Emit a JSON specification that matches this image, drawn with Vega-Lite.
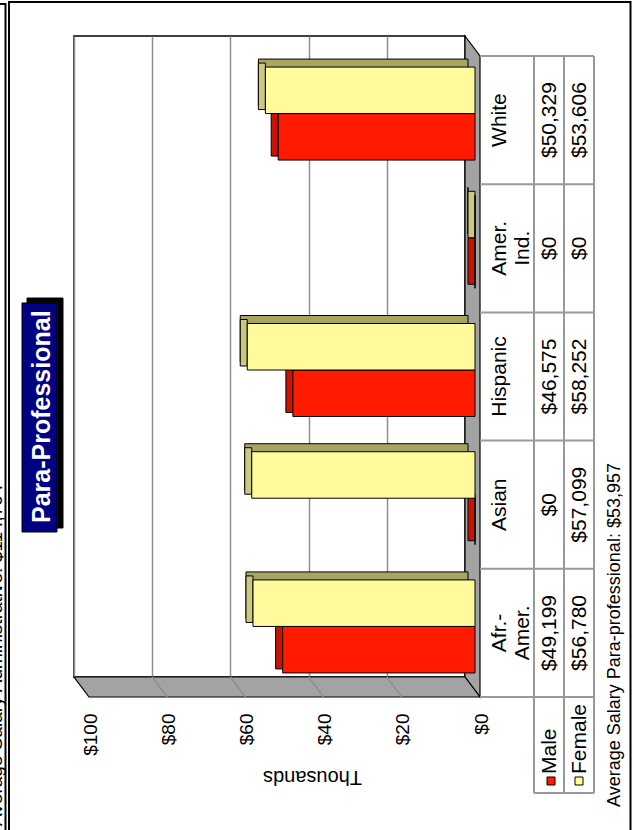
{
  "$schema": "https://vega.github.io/schema/vega-lite/v6.json",
  "width": 391,
  "height": 641,
  "autosize": {"type": "none"},
  "padding": {"left": 74, "top": 36, "right": 169, "bottom": 153},
  "background": "#ffffff",
  "config": {"font": "Liberation Sans", "view": {"stroke": "#000000", "strokeWidth": 1.5}},
  "data": {"values": [
    {"category": "Afr.- Amer.", "gender": "Male", "salary": 49199},
    {"category": "Asian", "gender": "Male", "salary": 0},
    {"category": "Hispanic", "gender": "Male", "salary": 46575},
    {"category": "Amer. Ind.", "gender": "Male", "salary": 0},
    {"category": "White", "gender": "Male", "salary": 50329},
    {"category": "Afr.- Amer.", "gender": "Female", "salary": 56780},
    {"category": "Asian", "gender": "Female", "salary": 57099},
    {"category": "Hispanic", "gender": "Female", "salary": 58252},
    {"category": "Amer. Ind.", "gender": "Female", "salary": 0},
    {"category": "White", "gender": "Female", "salary": 53606}
  ]},
  "layer": [
    {
      "data": {"values": [{}]},
      "mark": {"type": "point", "shape": "M391,0 L406,20 L406,661 L391,641 Z", "size": 4, "filled": true, "fill": "#A3A3A3", "stroke": "#000000", "strokeWidth": 1.2, "opacity": 1},
      "encoding": {"x": {"value": 0}, "y": {"value": 0}}
    },
    {
      "data": {"values": [{}]},
      "mark": {"type": "point", "shape": "M0,641 L391,641 L406,661 L15,661 Z", "size": 4, "filled": true, "fill": "#A3A3A3", "stroke": "#000000", "strokeWidth": 1.2, "opacity": 1},
      "encoding": {"x": {"value": 0}, "y": {"value": 0}}
    },
    {
      "data": {"values": [{}]},
      "mark": {"type": "point", "shape": "M78.2,641 L93.2,661 M156.4,641 L171.4,661 M234.6,641 L249.6,661 M312.8,641 L327.8,661", "size": 4, "filled": false, "stroke": "#8f8f8f", "strokeWidth": 1.5, "opacity": 1},
      "encoding": {"x": {"value": 0}, "y": {"value": 0}}
    },
    {
      "transform": [{"filter": "datum.gender === 'Male'"}],
      "mark": {"type": "bar", "size": 46.5, "xOffset": 3, "x2Offset": 10, "yOffset": 32.75, "fill": "#C81400", "stroke": "#000000", "strokeWidth": 1},
      "encoding": {
        "y": {"field": "category", "type": "nominal", "scale": {"domain": ["White", "Amer. Ind.", "Hispanic", "Asian", "Afr.- Amer."], "paddingInner": 0.2745, "paddingOuter": 0.137}, "axis": null},
        "x": {
          "field": "salary", "type": "quantitative",
          "scale": {"domain": [0, 100000], "reverse": true, "nice": false, "zero": true},
          "axis": {
            "orient": "bottom", "values": [0, 20000, 40000, 60000, 80000, 100000],
            "labelExpr": "'$' + (datum.value / 1000)",
            "labelAngle": 270, "labelAlign": "right", "labelBaseline": "middle",
            "labelPadding": 36, "labelOffset": 16, "labelFontSize": 19, "labelColor": "#000000",
            "labelFont": "Liberation Sans", "labelFlush": false, "labelOverlap": false,
            "ticks": false, "tickSize": 0, "domain": false,
            "grid": true, "gridColor": "#8f8f8f", "gridWidth": 1.5,
            "title": "Thousands", "titleAngle": 180, "titleFontSize": 20, "titleFontWeight": "normal",
            "titleColor": "#000000", "titleFont": "Liberation Sans", "titleX": 238, "titleY": 93,
            "titleAlign": "center", "titleBaseline": "alphabetic"
          }
        },
        "x2": {"field": "salary"}
      }
    },
    {
      "transform": [{"filter": "datum.gender === 'Male'"}],
      "mark": {"type": "bar", "size": 46.5, "xOffset": 10, "x2Offset": 10, "yOffset": 36.75, "fill": "#FF1A00", "stroke": "#000000", "strokeWidth": 1},
      "encoding": {
        "y": {"field": "category", "type": "nominal"},
        "x": {"field": "salary", "type": "quantitative"},
        "x2": {"datum": 0}
      }
    },
    {
      "transform": [{"filter": "datum.gender === 'Female'"}],
      "mark": {"type": "bar", "size": 46.5, "xOffset": 3, "x2Offset": 3, "yOffset": -17.75, "fill": "#A8A462", "stroke": "#000000", "strokeWidth": 1},
      "encoding": {
        "y": {"field": "category", "type": "nominal"},
        "x": {"field": "salary", "type": "quantitative"},
        "x2": {"datum": 0}
      }
    },
    {
      "transform": [{"filter": "datum.gender === 'Female'"}],
      "mark": {"type": "bar", "size": 46.5, "xOffset": 3, "x2Offset": 10, "yOffset": -13.75, "fill": "#CCC87E", "stroke": "#000000", "strokeWidth": 1},
      "encoding": {
        "y": {"field": "category", "type": "nominal"},
        "x": {"field": "salary", "type": "quantitative"},
        "x2": {"field": "salary"}
      }
    },
    {
      "transform": [{"filter": "datum.gender === 'Female'"}],
      "mark": {"type": "bar", "size": 46.5, "xOffset": 10, "x2Offset": 10, "yOffset": -9.75, "fill": "#FFFB9C", "stroke": "#000000", "strokeWidth": 1},
      "encoding": {
        "y": {"field": "category", "type": "nominal"},
        "x": {"field": "salary", "type": "quantitative"},
        "x2": {"datum": 0}
      }
    },
    {
      "transform": [{"filter": "datum.gender === 'Male'"}],
      "mark": {"type": "rule", "xOffset": 15, "x2Offset": 129, "yOffset": 2.4, "stroke": "#999999", "strokeWidth": 2},
      "encoding": {
        "y": {"field": "category", "type": "nominal", "bandPosition": 0},
        "x": {"datum": 0},
        "x2": {"datum": 0}
      }
    },
    {
      "data": {"values": [{}]},
      "mark": {"type": "point", "shape": "M460,20 V757 M490,20 V757 M520,20 V757 M406,661 H520 M460,757 H520", "size": 4, "filled": false, "stroke": "#999999", "strokeWidth": 2, "opacity": 1},
      "encoding": {"x": {"value": 0}, "y": {"value": 0}}
    },
    {
      "transform": [{"filter": "datum.gender === 'Male'"}],
      "mark": {"type": "text", "angle": 270, "align": "center", "baseline": "top", "fontSize": 21, "lineHeight": 23, "lineBreak": " ", "xOffset": 23.5, "yOffset": 20, "fill": "#000000"},
      "encoding": {
        "y": {"field": "category", "type": "nominal"},
        "x": {"datum": 0},
        "text": {"field": "category"}
      }
    },
    {
      "transform": [{"filter": "datum.gender === 'Male'"}],
      "mark": {"type": "text", "angle": 270, "align": "center", "baseline": "middle", "fontSize": 21, "xOffset": 85, "yOffset": 20, "fill": "#000000"},
      "encoding": {
        "y": {"field": "category", "type": "nominal"},
        "x": {"datum": 0},
        "text": {"field": "salary", "type": "quantitative", "format": "$,.0f"}
      }
    },
    {
      "transform": [{"filter": "datum.gender === 'Female'"}],
      "mark": {"type": "text", "angle": 270, "align": "center", "baseline": "middle", "fontSize": 21, "xOffset": 115, "yOffset": 20, "fill": "#000000"},
      "encoding": {
        "y": {"field": "category", "type": "nominal"},
        "x": {"datum": 0},
        "text": {"field": "salary", "type": "quantitative", "format": "$,.0f"}
      }
    },
    {
      "transform": [{"filter": "datum.gender === 'Male' && datum.category === 'White'"}],
      "mark": {"type": "point", "shape": "square", "size": 64, "filled": true, "fill": "#FF1A00", "stroke": "#000000", "strokeWidth": 1, "opacity": 1, "xOffset": 86, "yOffset": 104},
      "encoding": {"x": {"datum": 0}, "y": {"value": "height"}}
    },
    {
      "transform": [{"filter": "datum.gender === 'Female' && datum.category === 'White'"}],
      "mark": {"type": "point", "shape": "square", "size": 64, "filled": true, "fill": "#FFFB9C", "stroke": "#000000", "strokeWidth": 1, "opacity": 1, "xOffset": 114, "yOffset": 104},
      "encoding": {"x": {"datum": 0}, "y": {"value": "height"}}
    },
    {
      "transform": [{"filter": "datum.gender === 'Male' && datum.category === 'White'"}],
      "mark": {"type": "text", "angle": 270, "align": "left", "baseline": "middle", "fontSize": 21, "xOffset": 85, "yOffset": 97, "fill": "#000000"},
      "encoding": {"x": {"datum": 0}, "y": {"value": "height"}, "text": {"field": "gender"}}
    },
    {
      "transform": [{"filter": "datum.gender === 'Female' && datum.category === 'White'"}],
      "mark": {"type": "text", "angle": 270, "align": "left", "baseline": "middle", "fontSize": 21, "xOffset": 115, "yOffset": 97, "fill": "#000000"},
      "encoding": {"x": {"datum": 0}, "y": {"value": "height"}, "text": {"field": "gender"}}
    },
    {
      "data": {"values": [{}]},
      "mark": {"type": "point", "shape": "M-47,262 H-11 V492 H-47 Z", "size": 4, "filled": true, "fill": "#000000", "stroke": "#000000", "strokeWidth": 1, "opacity": 1},
      "encoding": {"x": {"value": 0}, "y": {"value": 0}}
    },
    {
      "data": {"values": [{}]},
      "mark": {"type": "point", "shape": "M-52,267 H-17 V496 H-52 Z", "size": 4, "filled": true, "fill": "#000080", "stroke": "#000000", "strokeWidth": 1, "opacity": 1},
      "encoding": {"x": {"value": 0}, "y": {"value": 0}}
    },
    {
      "data": {"values": [{}]},
      "mark": {"type": "text", "text": "Para-Professional", "angle": 270, "align": "center", "baseline": "alphabetic", "fontSize": 25, "fontWeight": "bold", "fill": "#ffffff", "xOffset": -24, "yOffset": 380.7},
      "encoding": {"x": {"value": 0}, "y": {"value": 0}}
    },
    {
      "data": {"values": [{}]},
      "mark": {"type": "text", "text": "Average Salary Para-professional: $53,957", "angle": 270, "align": "center", "baseline": "alphabetic", "fontSize": 18, "fill": "#000000", "xOffset": 546, "yOffset": 599},
      "encoding": {"x": {"value": 0}, "y": {"value": 0}}
    },
    {
      "data": {"values": [{}]},
      "mark": {"type": "text", "text": "Average Salary Administrative: $114,704", "angle": 270, "align": "left", "baseline": "alphabetic", "fontSize": 19, "fill": "#000000", "xOffset": -72.5, "yOffset": 790},
      "encoding": {"x": {"value": 0}, "y": {"value": 0}}
    },
    {
      "data": {"values": [{}]},
      "mark": {"type": "point", "shape": "M-65,800 V-34 H556.5 V800", "size": 4, "filled": false, "stroke": "#000000", "strokeWidth": 2, "opacity": 1},
      "encoding": {"x": {"value": 0}, "y": {"value": 0}}
    },
    {
      "data": {"values": [{}]},
      "mark": {"type": "point", "shape": "M-90,-32 H-68.5 V800", "size": 4, "filled": false, "stroke": "#000000", "strokeWidth": 2, "opacity": 1},
      "encoding": {"x": {"value": 0}, "y": {"value": 0}}
    }
  ]
}
